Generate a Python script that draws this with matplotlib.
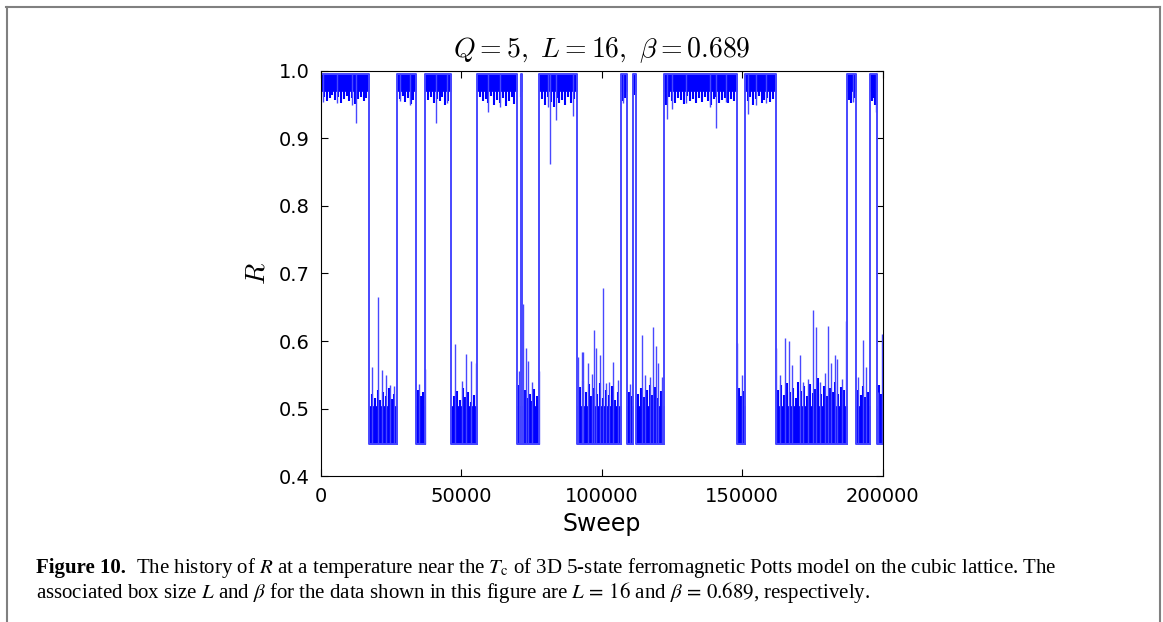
import numpy as np
import matplotlib.pyplot as plt
from matplotlib.lines import Line2D

plt.rcParams['mathtext.fontset'] = 'cm'

# sweeps at which R jumps between the ordered branch (1) and the disordered branch (0)
switch_sweeps = [0, 17200, 27150, 33800, 37100, 46300, 55500, 69900, 71050,
                 71650, 77700, 91100, 106650, 109000, 111150, 112000, 121950,
                 148150, 150900, 161850, 187200, 190500, 195400, 198100, 200000]
branch = [1, 0, 1, 0, 1, 0, 1, 0, 1, 0, 1, 0, 1, 0, 1, 0, 1, 0, 1, 0, 1, 0, 1, 0]

# levels of the two branches
r_floor = 0.447
r_ceil = 0.995
dense_low = 0.503
dense_high = 0.970

# ragged edge of the dense band in every segment
fringe = [
    [0.962, 0.955, 0.960, 0.964, 0.957, 0.961, 0.953, 0.959, 0.963, 0.956, 0.960, 0.951, 0.958, 0.962, 0.955, 0.960],
    [0.521, 0.515, 0.528, 0.512, 0.524, 0.518, 0.530, 0.514, 0.522],
    [0.958, 0.963, 0.954, 0.960, 0.951, 0.957],
    [0.528, 0.519, 0.525],
    [0.957, 0.962, 0.952, 0.959, 0.955, 0.961, 0.950, 0.956],
    [0.519, 0.526, 0.513, 0.531, 0.517, 0.524, 0.510, 0.520],
    [0.961, 0.955, 0.958, 0.952, 0.963, 0.950, 0.957, 0.953, 0.960, 0.948, 0.955, 0.962, 0.951],
    [0.535],
    [0.962],
    [0.527, 0.515, 0.522, 0.511, 0.529, 0.518],
    [0.958, 0.950, 0.962, 0.954, 0.947, 0.960, 0.952, 0.957, 0.949, 0.961, 0.953, 0.958],
    [0.532, 0.541, 0.525, 0.536, 0.518, 0.530, 0.522, 0.538, 0.515, 0.527, 0.520, 0.533, 0.512, 0.524],
    [0.955, 0.960],
    [0.525, 0.518],
    [0.965],
    [0.522, 0.530, 0.517, 0.528, 0.535, 0.520, 0.532, 0.515, 0.526],
    [0.950, 0.962, 0.956, 0.953, 0.960, 0.957, 0.951, 0.963, 0.955, 0.958, 0.952, 0.960,
     0.954, 0.962, 0.956, 0.950, 0.958, 0.961, 0.953, 0.957, 0.960, 0.952, 0.959, 0.955],
    [0.530, 0.518, 0.526],
    [0.955, 0.961, 0.950, 0.958, 0.963, 0.952, 0.957, 0.960, 0.954, 0.959],
    [0.527, 0.535, 0.520, 0.538, 0.524, 0.531, 0.516, 0.540, 0.526, 0.533, 0.519, 0.537,
     0.523, 0.529, 0.545, 0.521, 0.534, 0.518, 0.530, 0.525, 0.539, 0.522, 0.532, 0.528],
    [0.957, 0.952, 0.960],
    [0.528, 0.520, 0.534, 0.517, 0.525],
    [0.955, 0.960, 0.950],
    [0.535, 0.522],
]

# isolated excursions away from the branch
spike_sweeps = [820, 5580, 10920, 12340, 28110, 31670, 40810, 44720, 59540, 63700,
                80900, 81380, 83620, 89790, 107360, 123020, 125150, 129890, 138430,
                140570, 144370, 152060, 155050, 158600, 189440, 197520,
                18040, 20400, 21600, 23130, 24560, 25980, 34880, 36900, 47800, 50060,
                51480, 53380, 55160, 70500, 71780, 72850, 73560, 74980, 77470, 91570,
                92760, 93330, 95110, 96440, 97150, 97860, 99290, 100470, 101420, 102600,
                104030, 105800, 109970, 114240, 115300, 117080, 118040, 119110, 119820,
                121240, 148290, 150070, 162170, 163350, 165130, 166550, 167860, 170460,
                171640, 173420, 175200, 176390, 177820, 179600, 180660, 181740, 182910,
                183730, 185500, 187060, 191200, 193130, 194190, 198330, 199900]
spike_r = [0.954, 0.952, 0.949, 0.923, 0.956, 0.949, 0.923, 0.952, 0.939, 0.946,
           0.946, 0.862, 0.928, 0.934, 0.952, 0.929, 0.944, 0.952, 0.946,
           0.915, 0.954, 0.937, 0.949, 0.952, 0.954, 0.939,
           0.562, 0.665, 0.557, 0.549, 0.535, 0.534, 0.537, 0.559, 0.595, 0.541,
           0.581, 0.571, 0.568, 0.556, 0.655, 0.590, 0.571, 0.540, 0.556, 0.576,
           0.583, 0.584, 0.568, 0.551, 0.617, 0.590, 0.580, 0.679, 0.538, 0.540,
           0.569, 0.542, 0.536, 0.609, 0.550, 0.547, 0.620, 0.593, 0.567,
           0.547, 0.597, 0.550, 0.589, 0.550, 0.605, 0.600, 0.564, 0.579,
           0.540, 0.543, 0.646, 0.621, 0.540, 0.553, 0.622, 0.567, 0.579,
           0.573, 0.543, 0.630, 0.547, 0.602, 0.562, 0.525, 0.611]

fig = plt.figure(figsize=(11.63, 6.22), dpi=100)
ax = fig.add_axes([0.276, 0.2347, 0.483, 0.6512])

blue = '#0000ff'
light = '#4848ff'

# dense band of each segment plus its ragged edge
for i in range(len(branch)):
    s, e = switch_sweeps[i], switch_sweeps[i + 1]
    base = r_ceil if branch[i] else r_floor
    solid = dense_high if branch[i] else dense_low
    ax.bar(s, solid - base, width=e - s, bottom=base, align='edge',
           color=blue, edgecolor=blue, lw=0.5)
    xs = np.linspace(s, e, len(fringe[i]) + 2)[1:-1]
    ax.vlines(xs, base, fringe[i], color=blue, lw=1.5)

# the jumps between branches
step_x = np.repeat(switch_sweeps, 2)[1:-1]
step_y = np.repeat([r_ceil if b else r_floor for b in branch], 2)
ax.plot(step_x, step_y, color=light, lw=1.4)

# excursions
spike_base = [r_ceil if r > 0.75 else r_floor for r in spike_r]
ax.vlines(spike_sweeps, spike_base, spike_r, color=light, lw=1.0)

ax.set_xlim(0, 200000)
ax.set_ylim(0.4, 1.0)
ax.set_xticks([0, 50000, 100000, 150000, 200000])
ax.set_yticks([0.4, 0.5, 0.6, 0.7, 0.8, 0.9, 1.0])
ax.set_yticklabels(['0.4', '0.5', '0.6', '0.7', '0.8', '0.9', '1.0'])
ax.tick_params(direction='in', top=True, right=True, length=5, labelsize=14, pad=8)
ax.set_title(r'$Q=5,\ L=16,\ \beta=0.689$', fontsize=20, pad=10)
ax.set_xlabel('Sweep', fontsize=17, labelpad=4)
ax.set_ylabel(r'$R$', fontsize=20, labelpad=6)

# page frame
fig.add_artist(Line2D([7 / 1163, 7 / 1163], [0, 1 - 7 / 622], transform=fig.transFigure,
                      color='#808080', lw=1.5))
fig.add_artist(Line2D([6 / 1163, 1160 / 1163], [1 - 7 / 622, 1 - 7 / 622],
                      transform=fig.transFigure, color='#808080', lw=1.5))
fig.add_artist(Line2D([1160 / 1163, 1160 / 1163], [0, 1 - 7 / 622], transform=fig.transFigure,
                      color='#808080', lw=1.5))

# caption
cap_size = 15
fig.text(36 / 1163, 1 - 573 / 622, 'Figure 10.', fontsize=cap_size, fontweight='bold',
         family='Liberation Serif', va='baseline')
fig.text(136 / 1163, 1 - 573 / 622,
         r'The history of $R$ at a temperature near the $T_{\rm c}$ of 3D 5-state '
         r'ferromagnetic Potts model on the cubic lattice. The',
         fontsize=cap_size, family='Liberation Serif', math_fontfamily='stix', va='baseline')
fig.text(36 / 1163, 1 - 598 / 622,
         r'associated box size $L$ and $\beta$ for the data shown in this figure are '
         r'$L\,=\,16$ and $\beta\,=\,0.689$, respectively.',
         fontsize=cap_size, family='Liberation Serif', math_fontfamily='stix', va='baseline')

fig.savefig('out.png', dpi=100)
